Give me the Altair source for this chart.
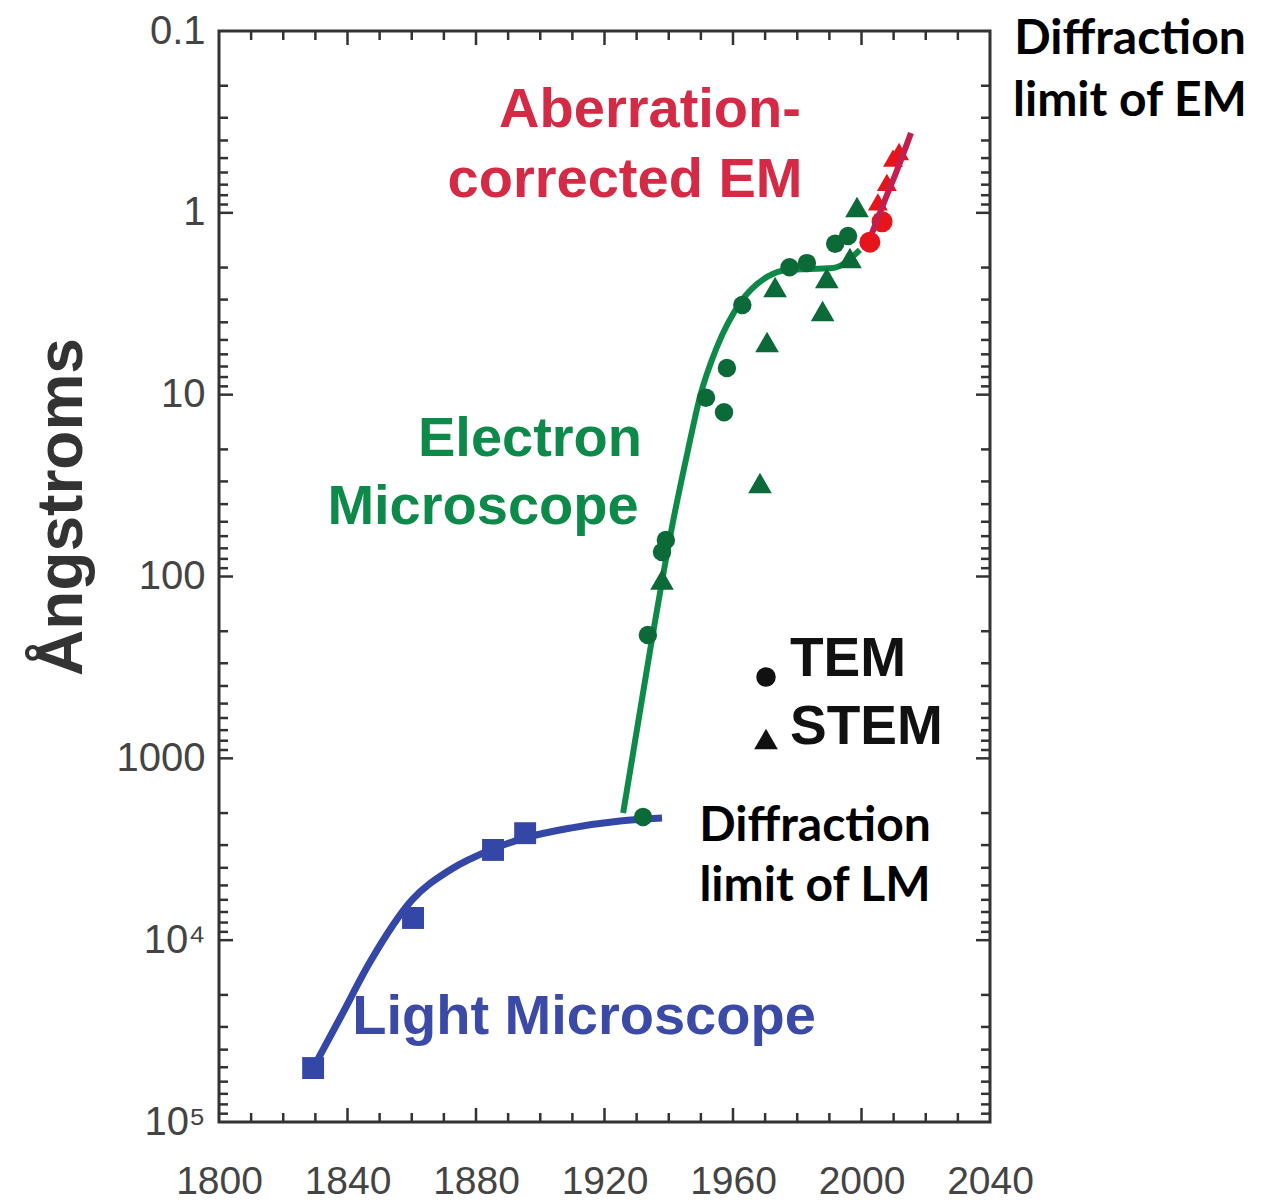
import altair as alt
import pandas as pd

# ---------------- data ----------------
# Light microscope (blue squares and fitted curve)
lm_point_year = [1829.3, 1860.4, 1885.3, 1895.3]
lm_point_val = [50500, 7550, 3190, 2580]
lm_curve_year = [1829.3, 1837.7, 1847.0, 1860.1, 1871.9, 1885.3, 1895.3, 1909.3, 1924.8, 1937.9]
lm_curve_val = [50500, 26800, 13200, 6010, 4110, 3150, 2740, 2420, 2210, 2130]

# Electron microscope curve (green)
em_curve_year = [1925.8, 1934.2, 1941.0, 1946.0, 1949.7, 1955.0, 1962.2, 1970.6, 1976.8, 1991.1, 1999.5]
em_curve_val = [2000, 254, 53.4, 20.1, 10.3, 5.47, 3.13, 2.25, 2.06, 2.01, 1.60]

# TEM (circles) and STEM (triangles), green
tem_year = [1932.0, 1933.5, 1937.9, 1939.1, 1951.6, 1957.2, 1958.1, 1962.9, 1977.6, 1983.0, 1991.8, 1995.8]
tem_val = [2100, 210, 73.3, 63.0, 10.4, 12.5, 7.13, 3.21, 1.99, 1.89, 1.48, 1.34]
stem_year = [1937.9, 1968.4, 1970.6, 1973.1, 1987.9, 1989.2, 1996.4, 1998.6]
stem_val = [104, 30.6, 5.13, 2.56, 3.47, 2.28, 1.77, 0.93]

# Aberration-corrected EM (red)
ac_curve_year = [2003.3, 2007.3, 2011.1, 2015.4]
ac_curve_val = [1.29, 0.85, 0.58, 0.364]
ac_tem_year = [2002.6, 2006.4]
ac_tem_val = [1.45, 1.12]
ac_stem_year = [2005.1, 2007.9, 2009.8, 2011.7]
ac_stem_val = [0.87, 0.68, 0.50, 0.46]

# axes
x_domain = [1800, 2040]
x_label_years = [1800, 1840, 1880, 1920, 1960, 2000, 2040]
x_minor_years = [1810, 1820, 1830, 1850, 1860, 1870, 1890, 1900, 1910, 1930, 1940, 1950,
                 1970, 1980, 1990, 2010, 2020, 2030]
x_major_years = [1840, 1880, 1920, 1960, 2000]
y_domain = [0.1, 100000]
y_tick_values = [0.1, 1, 10, 100, 1000, 10000, 100000]
y_tick_labels = ["0.1", "1", "10", "100", "1000", "10\u2074", "10\u2075"]
y_major = [1, 10, 100, 1000, 10000]
y_decades = [0.1, 1, 10, 100, 1000, 10000]
y_multipliers = [2, 3, 4, 5, 6, 7, 8, 9]
y_minor = [d * m for d in y_decades for m in y_multipliers]

# ---------------- layout / style ----------------
W, H = 771, 1091
FONT = "Liberation Sans"
TICK_COLOR = "#333333"

label_expr = " : ".join(
    [f"abs(datum.value - {v}) < {v} * 0.001 ? '{lab}'" for v, lab in zip(y_tick_values, y_tick_labels)]
) + " : ''"

xaxis = alt.Axis(values=x_label_years, format="d", ticks=False, domain=False, grid=False,
                 labelFont=FONT, labelFontSize=39, labelColor="#444444", labelPadding=40,
                 labelFlush=False, labelOverlap=False, title=None)
yaxis = alt.Axis(values=y_tick_values, labelExpr=label_expr, ticks=False, domain=False, grid=False,
                 labelFont=FONT, labelFontSize=40, labelColor="#444444", labelPadding=14,
                 labelFlush=False, labelOverlap=False, labelBound=False, title=None)
xscale = alt.Scale(domain=x_domain, nice=False, zero=False)
yscale = alt.Scale(type="log", domain=y_domain, reverse=True, nice=False)


def X(f="year"):
    return alt.X(f"{f}:Q", scale=xscale, axis=xaxis)


def Y(f="val"):
    return alt.Y(f"{f}:Q", scale=yscale, axis=yaxis)


def df(years, vals):
    return pd.DataFrame({"year": years, "val": vals})


layers = []

# tick marks (inward)
xt_major = pd.DataFrame({"year": x_major_years})
xt_minor = pd.DataFrame({"year": x_minor_years})
for d, ln in [(xt_major, 14), (xt_minor, 9)]:
    layers.append(alt.Chart(d).mark_rule(color=TICK_COLOR, strokeWidth=2.5).encode(
        x=X(), y=alt.value(H), y2=alt.value(H - ln)))
    layers.append(alt.Chart(d).mark_rule(color=TICK_COLOR, strokeWidth=2.5).encode(
        x=X(), y=alt.value(0), y2=alt.value(ln)))
yt_major = pd.DataFrame({"val": y_major})
yt_minor = pd.DataFrame({"val": y_minor})
for d, ln in [(yt_major, 14), (yt_minor, 9)]:
    layers.append(alt.Chart(d).mark_rule(color=TICK_COLOR, strokeWidth=2.5).encode(
        y=Y(), x=alt.value(0), x2=alt.value(ln)))
    layers.append(alt.Chart(d).mark_rule(color=TICK_COLOR, strokeWidth=2.5).encode(
        y=Y(), x=alt.value(W - ln), x2=alt.value(W)))

# curves
BLUE = "#3446a6"
GREEN_LINE = "#0e8a48"
GREEN_PT = "#0b6a38"
RED_LINE = "#c41e4e"
RED_PT = "#e8141c"

layers.append(alt.Chart(df(lm_curve_year, lm_curve_val)).mark_line(
    color=BLUE, strokeWidth=7, interpolate="monotone").encode(x=X(), y=Y()))
layers.append(alt.Chart(df(lm_point_year, lm_point_val)).mark_point(
    shape="square", filled=True, opacity=1, size=480, color=BLUE).encode(x=X(), y=Y()))
layers.append(alt.Chart(df(em_curve_year, em_curve_val)).mark_line(
    color=GREEN_LINE, strokeWidth=6, interpolate="monotone").encode(x=X(), y=Y()))
layers.append(alt.Chart(df(tem_year, tem_val)).mark_point(
    shape="circle", filled=True, opacity=1, size=340, color=GREEN_PT).encode(x=X(), y=Y()))
layers.append(alt.Chart(df(stem_year, stem_val)).mark_point(
    shape="triangle-up", filled=True, opacity=1, size=560, color=GREEN_PT).encode(x=X(), y=Y()))
layers.append(alt.Chart(df(ac_tem_year, ac_tem_val)).mark_point(
    shape="circle", filled=True, opacity=1, size=440, color=RED_PT).encode(x=X(), y=Y()))
layers.append(alt.Chart(df(ac_stem_year, ac_stem_val)).mark_point(
    shape="triangle-up", filled=True, opacity=1, size=400, color=RED_PT).encode(x=X(), y=Y()))
layers.append(alt.Chart(df(ac_curve_year, ac_curve_val)).mark_line(
    color=RED_LINE, strokeWidth=6, interpolate="monotone").encode(x=X(), y=Y()))

one = alt.Data(values=[{"k": 0}])


def text(t, px, py, color, size, font=FONT, align="center", weight="bold", angle=0):
    kw = dict(text=t, color=color, fontSize=size, font=font, align=align,
              baseline="middle", fontWeight=weight)
    if angle:
        kw["angle"] = angle
    return alt.Chart(one).mark_text(**kw).encode(x=alt.value(px), y=alt.value(py))


# annotations (pixel offsets relative to plot area)
layers += [
    text("Aberration-", 431, 79, "#d42a45", 56),
    text("corrected EM", 406, 149, "#d42a45", 56),
    text("Electron", 311, 408, "#0d8a4a", 56),
    text("Microscope", 264, 476, "#0d8a4a", 56),
    text("Light Microscope", 365, 986, "#3a4aa6", 56),
    text("TEM", 571, 628, "#111111", 55, align="left"),
    text("STEM", 571, 696, "#111111", 55, align="left"),
    text("Diffraction", 596, 796, "#000000", 48, font="Lato"),
    text("limit of LM", 596, 856, "#000000", 48, font="Lato"),
    text("Diffraction", 911, 9, "#000000", 48, font="Lato"),
    text("limit of EM", 911, 71, "#000000", 48, font="Lato"),
    text("\u00c5ngstroms", -156, 476, "#333333", 64, weight="bold", angle=270),
]
layers.append(alt.Chart(one).mark_point(shape="circle", filled=True, opacity=1, size=380,
                                        color="#111111").encode(x=alt.value(547), y=alt.value(646)))
layers.append(alt.Chart(one).mark_point(shape="triangle-up", filled=True, opacity=1, size=560,
                                        color="#111111").encode(x=alt.value(547), y=alt.value(708)))

chart = alt.layer(*layers).properties(
    width=W, height=H,
    autosize=alt.AutoSizeParams(type="none"),
    padding={"left": 219, "top": 31, "right": 279, "bottom": 81},
    background="white",
).configure_view(stroke="#333333", strokeWidth=3)

chart.save("out.html", embed_options={"renderer": "svg", "actions": False})
